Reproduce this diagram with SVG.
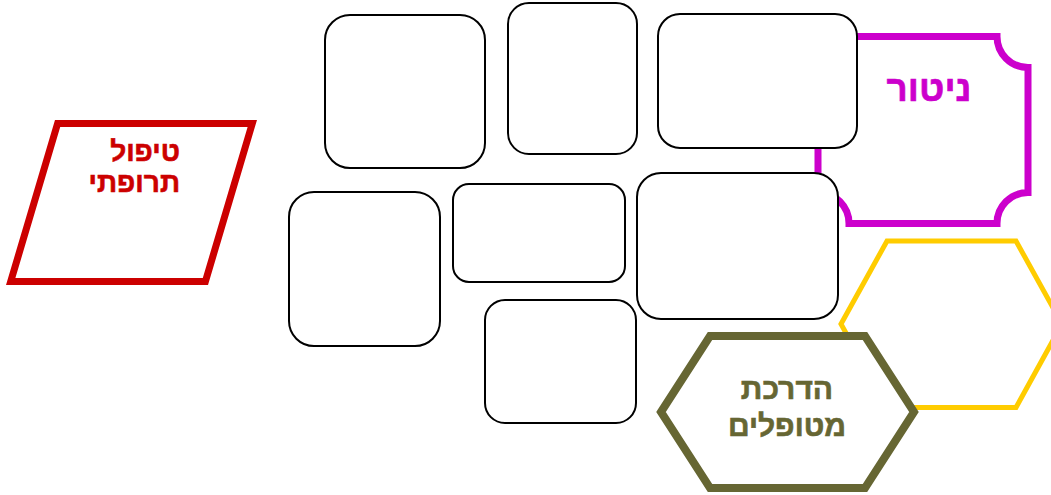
<svg xmlns="http://www.w3.org/2000/svg" width="1051" height="495" viewBox="0 0 1051 495">
<style>
.box{fill:#fff;stroke:#000;stroke-width:2}
.t{font-family:"Liberation Sans","DejaVu Sans",Arial,sans-serif;font-weight:bold;stroke-width:0.6}
</style>
<rect width="1051" height="495" fill="#fff"/>
<g id="node-tipul">
<polygon points="57.6,123.5 252.3,123.5 205.4,281.5 10.7,281.5" fill="#fff" stroke="#CC0000" stroke-width="7"/>
<text class="t" fill="#CC0000" stroke="#CC0000" font-size="28" text-anchor="end"><tspan x="180" y="161">טיפול</tspan><tspan x="180" y="192">תרופתי</tspan></text>
</g>
<g id="node-nitur">
<path d="M849,36.5 L997,36.5 A31,31 0 0 0 1028,67.5 L1028,192.5 A31,31 0 0 0 997,223.5 L849,223.5 A31,31 0 0 0 818,192.5 L818,67.5 A31,31 0 0 0 849,36.5 Z" fill="#fff" stroke="#CC00CC" stroke-width="7"/>
<text class="t" fill="#CC00CC" stroke="#CC00CC" font-size="37" x="929" y="101" text-anchor="middle">ניטור</text>
</g>
<g id="node-a"><rect class="box" x="325" y="15" width="160" height="153" rx="25"/></g>
<g id="node-b"><rect class="box" x="508" y="3" width="129" height="151" rx="21"/></g>
<g id="node-c"><rect class="box" x="658" y="14" width="199" height="134" rx="22"/></g>
<g id="node-d"><rect class="box" x="289" y="192" width="151" height="154" rx="25"/></g>
<g id="node-e"><rect class="box" x="453" y="184" width="172" height="98" rx="16"/></g>
<g id="node-f"><rect class="box" x="637" y="173" width="201" height="146" rx="24"/></g>
<g id="node-g"><rect class="box" x="485" y="300" width="151" height="123" rx="20"/></g>
<g id="node-gold">
<polygon points="841,324 887,241 1016,241 1062,324 1016,407.5 887,407.5" fill="#fff" stroke="#FFCC00" stroke-width="5"/>
</g>
<g id="node-hadracha">
<polygon points="661,412 710,336 865,336 914,412 865,488 710,488" fill="#fff" stroke="#666633" stroke-width="8"/>
<text class="t" fill="#666633" stroke="#666633" font-size="30" text-anchor="middle"><tspan x="787" y="399">הדרכת</tspan><tspan x="787" y="436">מטופלים</tspan></text>
</g>
<g id="connectors"></g>
</svg>
